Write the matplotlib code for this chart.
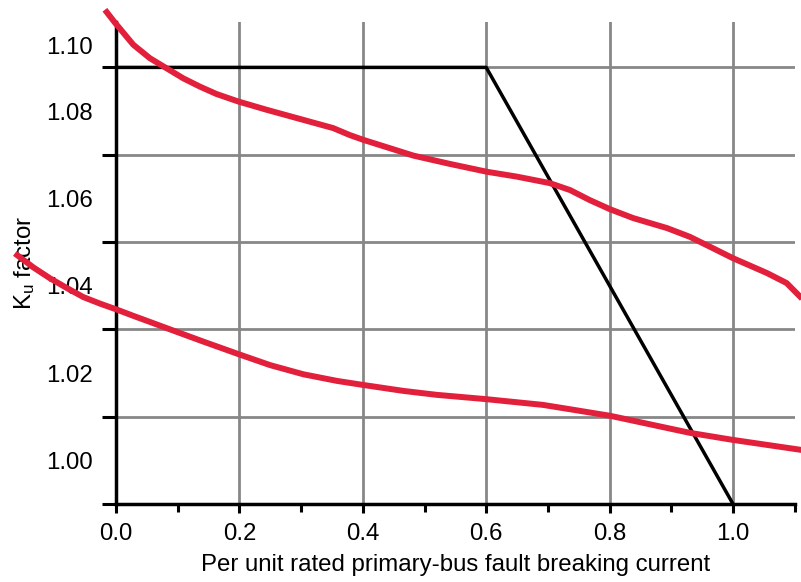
import matplotlib
matplotlib.use("Agg")
import matplotlib.pyplot as plt
from matplotlib.ticker import FixedLocator, FixedFormatter, NullFormatter

plt.rcParams['font.family'] = ['Liberation Sans', 'DejaVu Sans']
plt.rcParams['mathtext.fontset'] = 'custom'
plt.rcParams['mathtext.rm'] = 'Liberation Sans'
plt.rcParams['mathtext.it'] = 'Liberation Sans'

# Upper K_u curve
upper_x = [-0.018, -0.002, 0.028, 0.055, 0.082, 0.109, 0.136, 0.163, 0.198, 0.244,
           0.298, 0.352, 0.379, 0.401, 0.482, 0.541, 0.601, 0.649, 0.703, 0.736,
           0.768, 0.801, 0.838, 0.893, 0.930, 0.963, 1.000, 1.055, 1.087, 1.115]
upper_y = [1.1032, 1.1003, 1.0952, 1.0921, 1.0898, 1.0875, 1.0856, 1.0839, 1.0822, 1.0803,
           1.0782, 1.0761, 1.0745, 1.0734, 1.0698, 1.0679, 1.0661, 1.0650, 1.0635, 1.0619,
           1.0596, 1.0575, 1.0555, 1.0532, 1.0512, 1.0489, 1.0463, 1.0429, 1.0406, 1.0366]

# Lower K_u curve
lower_x = [-0.164, -0.134, -0.107, -0.080, -0.053, -0.026, 0.000, 0.028, 0.055, 0.0875,
           0.1415, 0.199, 0.250, 0.304, 0.358, 0.399, 0.466, 0.520, 0.601, 0.692,
           0.736, 0.801, 0.930, 0.999, 1.115]
lower_y = [1.0474, 1.0442, 1.0417, 1.0395, 1.0374, 1.0359, 1.0346, 1.0331, 1.0317, 1.0300,
           1.0272, 1.0243, 1.0218, 1.0197, 1.0182, 1.0173, 1.0159, 1.0150, 1.0140, 1.0127,
           1.0117, 1.0102, 1.0063, 1.0047, 1.0023]

# Black limit line
limit_x = [0.0, 0.6, 1.0]
limit_y = [1.09, 1.09, 0.99]

grid_y = [0.99, 1.01, 1.03, 1.05, 1.07, 1.09]
ylabel_pos = [1.00, 1.02, 1.04, 1.06, 1.08, 1.095]
ylabel_txt = ['1.00', '1.02', '1.04', '1.06', '1.08', '1.10']
xtick_major = [0.0, 0.2, 0.4, 0.6, 0.8, 1.0]
xtick_labels = ['0.0', '0.2', '0.4', '0.6', '0.8', '1.0']
xtick_minor = [0.1, 0.3, 0.5, 0.7, 0.9, 1.1]

fig = plt.figure(figsize=(8.01, 5.82), dpi=100)
ax = fig.add_axes([116/801, 78/582, 678.7/801, 482/582])
ax.set_xlim(0, 1.1)
ax.set_ylim(0.99, 1.1004)

gc = '#878787'
for gx in xtick_major[1:]:
    ax.axvline(gx, color=gc, lw=2.0, zorder=1)
for gy in grid_y[1:]:
    ax.axhline(gy, color=gc, lw=2.0, zorder=1)

red = '#e2203c'
ax.plot(upper_x, upper_y, color=red, lw=4.3, clip_on=False, zorder=4,
        solid_joinstyle='round', solid_capstyle='butt')
ax.plot(lower_x, lower_y, color=red, lw=4.3, clip_on=False, zorder=4,
        solid_joinstyle='round', solid_capstyle='butt')
ax.plot(limit_x, limit_y, color='black', lw=2.5, zorder=3)

for s in ['top', 'right']:
    ax.spines[s].set_visible(False)
for s in ['left', 'bottom']:
    ax.spines[s].set_linewidth(2.5)
    ax.spines[s].set_zorder(3)

fs = 17.3
ax.yaxis.set_major_locator(FixedLocator(grid_y))
ax.yaxis.set_major_formatter(NullFormatter())
ax.yaxis.set_minor_locator(FixedLocator(ylabel_pos))
ax.yaxis.set_minor_formatter(FixedFormatter(ylabel_txt))
ax.tick_params(axis='y', which='major', length=10, width=2.2, direction='out')
ax.tick_params(axis='y', which='minor', length=0, pad=16.5, labelsize=fs)

ax.xaxis.set_major_locator(FixedLocator(xtick_major))
ax.xaxis.set_major_formatter(FixedFormatter(xtick_labels))
ax.xaxis.set_minor_locator(FixedLocator(xtick_minor))
ax.tick_params(axis='x', which='major', length=6.5, width=2.2, direction='out', pad=7, labelsize=fs)
ax.tick_params(axis='x', which='minor', length=5.5, width=2.2, direction='out')

ax.set_xlabel('Per unit rated primary-bus fault breaking current', fontsize=fs, labelpad=7)
ax.set_ylabel(r'K$_\mathregular{u}$ factor', fontsize=fs, labelpad=7)

fig.savefig('out.png', dpi=100)
